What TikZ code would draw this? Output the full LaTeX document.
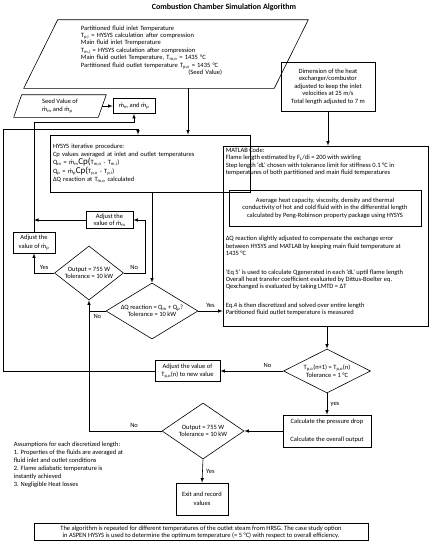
\documentclass[tikz,border=0pt]{standalone}
\usepackage{fontspec}
\setmainfont{Carlito}
\usepackage{tikz}
\usetikzlibrary{arrows,shapes.geometric}
\newcommand{\sbs}[1]{\textsubscript{#1}}
\newcommand{\md}{ṁ}
\newcommand{\bigcp}{{\fontsize{9}{9}\selectfont Cp(}}

\begin{document}
\begin{tikzpicture}[x=1pt,y=-1pt,font=\fontsize{6.5}{7.4}\selectfont,
	>=latex,line width=0.6pt,
	flowbox/.style={draw,rectangle,inner sep=1pt,align=center},
	decision/.style={draw,diamond,inner sep=0pt,align=center},
	txt/.style={inner sep=0pt,align=left}]
		\useasboundingbox (0,0) rectangle (434,550);
		\node (title) at (224,7) {\fontsize{8}{9}\selectfont\bfseries Combustion Chamber Simulation Algorithm};
		%
		\node (par) at (166,54) [minimum width=250pt,minimum height=68pt] {};
		\draw ([xshift=17pt]par.north west) -- ([xshift=17pt]par.north east) -- ([xshift=-17pt]par.south east) -- ([xshift=-17pt]par.south west) -- cycle;
		\node[txt,text width=141pt] (partxt) at (151.5,50.5) {Partitioned fluid inlet Temperature\\
			T\sbs{p,i} = HYSYS calculation after compression\\
			Main fluid inlet Tremperature\\
			T\sbs{m,i} = HYSYS calculation after compression\\
			Main fluid outlet Temperature, T\sbs{m,o} = 1435 °C\\
			Partitioned fluid outlet temperature T\sbs{p,o} = 1435 °C\\
			\hskip0pt plus1fill (Seed Value)};
		\node[flowbox,minimum width=94pt,minimum height=49pt] (dim) at (328,86.5) {Dimension of the heat\\ exchanger/combustor\\ adjusted to keep the inlet\\ velocities at 25 m/s\\ Total length adjusted to 7 m};
		%
		\node (seed) at (60,106) [minimum width=84pt,minimum height=22pt,inner sep=0pt,align=left] {Seed Value of\\ \md\sbs{m} and \md\sbs{p}};
		\draw ([xshift=4pt]seed.north west) -- ([xshift=4pt]seed.north east) -- ([xshift=-4pt]seed.south east) -- ([xshift=-4pt]seed.south west) -- cycle;
		\node[flowbox,minimum width=42pt,minimum height=15pt] (mm) at (134,106) {\md\sbs{m} and \md\sbs{p}};
		\node[flowbox,minimum width=200pt,minimum height=57pt,text width=194pt,align=left] (hys) at (150,163.5) {HYSYS iterative procedure:\\
			Cp values averaged at inlet and outlet temperatures\\
			Q\sbs{m} = \md\sbs{m}\bigcp T\sbs{m,o} - T\sbs{m,i})\\
			Q\sbs{p} = \md\sbs{p}\bigcp T\sbs{p,o} - T\sbs{p,i})\\
			ΔQ reaction at T\sbs{m,o} calculated};
		%
		\node[flowbox,minimum width=47pt,minimum height=17pt] (madj) at (109.5,220) {Adjust the\\ value of \md\sbs{m}};
		\node[flowbox,minimum width=42pt,minimum height=21pt] (mp) at (34,242.5) {Adjust the\\[1.5pt] value of \md\sbs{p}};
		\node[decision,aspect=1.3,minimum width=69pt,minimum height=54pt] (out1) at (89,273) {Output = 755 W\\ Tolerance = 10 kW};
		\node[decision,aspect=1.65,minimum width=92pt,minimum height=56pt] (dq) at (152,311) {ΔQ reaction = Q\sbs{m} + Q\sbs{p}?\\ Tolerance = 10 kW};
		%
		\node[draw,minimum width=205pt,minimum height=180pt] (mat) at (325.5,236) {};
		\node[txt,anchor=north west] (mat1) at (225.5,147.5) {MATLAB Code:\\
			Flame length estimated by F\sbs{L}/di = 200 with swirling\\
			Step length `dL' chosen with tolerance limit for stiffness 0.1 °C in\\
			temperatures of both partitioned and main fluid temperatures};
		\node[flowbox,minimum width=192pt,minimum height=36pt] (matin) at (325,208) {Average heat capacity, viscosity, density and thermal\\
			conductivity of hot and cold fluid with in the differential length\\
			calculated by Peng-Robinson property package using HYSYS};
		\node[txt,anchor=north west] (mat2) at (225.5,236) {ΔQ reaction slightly adjusted to compensate the exchange error\\
			between HYSYS and MATLAB by keeping main fluid temperature at\\
			1435 °C\\[11pt]
			`Eq 5' is used to calculate Qgenerated in each `dL' uptil flame length\\
			Overall heat transfer coefficient evaluated by Dittus-Boelter eq.\\
			Qexchanged is evaluated by taking LMTD = ΔT\\[11pt]
			Eq.4 is then discretized and solved over entire length\\
			Partitioned fluid outlet temperature is measured};
		%
		\node[decision,aspect=2,minimum width=87pt,minimum height=44pt] (tp) at (327,371) {T\sbs{p,o}(n+1) = T\sbs{p,o}(n)\\ Tolerance = 1 °C};
		\node[flowbox,minimum width=65pt,minimum height=21pt] (tpadj) at (187.5,371) {Adjust the value of\\ T\sbs{p,o}(n) to new value};
		\node[flowbox,minimum width=88pt,minimum height=32pt] (calc) at (327,431) {Calculate the pressure drop\\[10.6pt] Calculate the overall output};
		\node[decision,aspect=1.45,minimum width=82pt,minimum height=56pt] (out2) at (203,431) {Output = 755 W\\ Tolerance = 10 kW};
		\node[flowbox,minimum width=52pt,minimum height=32pt] (exit) at (202,499) {Exit and record\\[2pt] values};
		%
		\node[txt,anchor=north west,font=\fontsize{6.5}{8}\selectfont] (asm) at (13.5,441.5) {Assumptions for each discretized length:\\
			1. Properties of the fluids are averaged at\\
			fluid inlet and outlet conditions\\
			2. Flame adiabatic temperature is\\
			instantly achieved\\
			3. Negligible Heat losses};
		\node[flowbox,minimum width=334pt,minimum height=17pt,inner sep=1.5pt] (note) at (201,532) {The algorithm is repeated for different temperatures of the outlet steam from HRSG. The case study option\\
			in ASPEN HYSYS is used to determine the optimum temperature (= 5 °C) with respect to overall efficiency.};
		%
		\coordinate (mbend) at (34,122);
		\coordinate (ltop) at (3,129);
		\path[->]
		(seed.east) edge (mm.west)
		(dim.south) edge (dim.south |- mat.north)
		([xshift=22pt]par.south) edge ([xshift=22pt]par.south |- hys.north)
		(dq.north |- hys.south) edge (dq.north)
		(dq.east) edge node[above]{Yes} (dq.east -| mat.west)
		(tp.north |- mat.south) edge (tp.north)
		(tp.west) edge node[above,pos=0.25]{No} (tpadj.east)
		(tp.south) edge node[right]{yes} (calc.north)
		(calc.west) edge (out2.east)
		(out2.south) edge node[right]{Yes} (exit.north)
		(madj.west) edge (madj.west -| mp.north);
		%
		\draw[->] (mp.north) -- (mbend) -| (mm.south);
		\draw[->] (out1.west) -| node[pos=0.25,above]{Yes} (mp.south);
		\draw[->] (out1.east) -- node[above]{No} ++(21,0) |- (madj.east);
		\draw (dq.west) -- node[below]{No} (dq.west -| out1.south);
		\draw[->] (out2.west) -| node[pos=0.19,above]{No} (out1.south);
		\draw[->] (tpadj.west) -| (ltop) -| ([xshift=-12pt]hys.north);
		\end{tikzpicture}
\end{document}
